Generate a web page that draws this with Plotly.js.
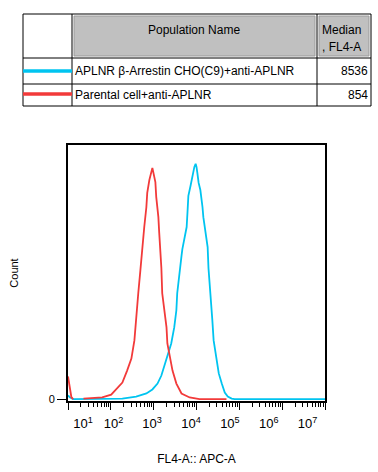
<!DOCTYPE html>
<html>
<head>
<meta charset="utf-8">
<script src="https://cdn.plot.ly/plotly-3.0.1.min.js"></script>
<style>html,body{margin:0;padding:0;background:#fff;}#chart{width:378px;height:472px;}</style>
</head>
<body>
<div id="chart"></div>
<script>
// ---- data (FL4-A intensity, count as % of max) ----
var redX = [10, 10.7, 12, 13.2, null, 23, 63, 102, 141, 186, 240, 302, 355, 389, 437, 490, 537, 603, 676, 708, 794, 891, 933, 977, 1096, 1148, 1288, 1349, 1445, 1514, 1585, 1778, 1995, 2089, 2344, 2754, 3388, 4467, 6918, 11750, 50100];
var redY = [9.8, 7, 1, 0.2, null, 0.4, 0.9, 2.1, 4.7, 7.2, 12.3, 17.4, 25.1, 34.9, 45.1, 54.9, 64.7, 73.2, 81.7, 87.7, 93.2, 97.4, 98.3, 96.6, 92.3, 86.0, 77.4, 70.6, 62, 55.7, 45.1, 37.9, 30.6, 23.8, 19.6, 12.3, 6.8, 2.6, 0.9, 0.2, 0.2];
var blueX = [10, 11, 13.2, 186, 389, 676, 933, 1230, 1514, 1778, 2089, 2570, 3020, 3388, 3548, 3981, 4467, 4677, 5248, 5888, 6166, 6457, 7244, 7586, 8128, 8511, 8913, 9550, 10000, 10470, 11220, 12300, 13180, 13800, 14450, 15490, 16980, 18200, 19050, 21380, 23440, 25120, 29510, 33110, 38900, 45710, 53700, 66070, 77620, 10000000];
var blueY = [1.8, 1, 0.2, 0.4, 1.3, 2.6, 4.3, 6.8, 10.2, 14.5, 18.7, 23.8, 30.6, 37.9, 45.1, 51.9, 61, 63.8, 68.1, 73.2, 79.6, 86.4, 90.6, 92.8, 94.9, 97.0, 98.7, 100, 98.7, 96.2, 91.9, 88.9, 85.5, 81.7, 77.4, 73.2, 68.9, 64.7, 55.7, 45.1, 33.6, 25.1, 17.9, 11.1, 6.8, 3.0, 1.3, 0.4, 0.2, 0.2];

var populations = ["APLNR \u03b2-Arrestin CHO(C9)+anti-APLNR", "Parental cell+anti-APLNR"];
var medians = ["8536", "854"];
var seriesColors = ["#00c4f0", "#f23a3a"];

var majorTicks = [1e1, 1e2, 1e3, 1e4, 1e5, 1e6, 1e7];
var tickLabelPos = [22.4, 115, 912, 7413, 60256, 489779, 3890451];
var tickLabelText = ["10<sup>1</sup>", "10<sup>2</sup>", "10<sup>3</sup>", "10<sup>4</sup>", "10<sup>5</sup>", "10<sup>6</sup>", "10<sup>7</sup>"];
var minorTicks = [];
for (var d = 1; d < 7; d++) { for (var k = 2; k <= 9; k++) { minorTicks.push(k * Math.pow(10, d)); } }

// ---- layout helpers (pixel -> paper) ----
var W = 378, H = 472, L = 68, R = 325, T = 145, B = 401;
function px(x) { return (x - L) / (R - L); }
function py(y) { return (B - y) / (B - T); }

var font = "Liberation Sans, Arial, sans-serif";

var traces = [
  {x: blueX, y: blueY, type: "scatter", mode: "lines", line: {color: seriesColors[0], width: 1.8}, name: populations[0], showlegend: false, hoverinfo: "skip"},
  {x: redX, y: redY, type: "scatter", mode: "lines", line: {color: seriesColors[1], width: 1.8}, name: populations[1], showlegend: false, hoverinfo: "skip", connectgaps: false},
  {x: [10], y: [0], xaxis: "x2", type: "scatter", mode: "markers", marker: {opacity: 0}, showlegend: false, hoverinfo: "skip"}
];

var shapes = [];
function line(x0, y0, x1, y1, color, width) {
  shapes.push({type: "line", xref: "paper", yref: "paper", x0: px(x0), y0: py(y0), x1: px(x1), y1: py(y1), line: {color: color, width: width}});
}
function rect(x0, y0, x1, y1, fill, lc, lw) {
  shapes.push({type: "rect", xref: "paper", yref: "paper", x0: px(x0), y0: py(y0), x1: px(x1), y1: py(y1), fillcolor: fill, line: {color: lc, width: lw}, layer: "above"});
}
// gray header cells
rect(74, 16, 315, 56, "#c0c0c0", "#9a9a9a", 1);
rect(319, 16, 369, 56, "#c0c0c0", "#9a9a9a", 1);
// table grid
rect(23, 14, 371, 106, "rgba(0,0,0,0)", "#000", 1);
line(23, 58, 371, 58, "#000", 1);
line(23, 84, 371, 84, "#000", 1);
line(72, 14, 72, 106, "#000", 1);
line(317, 14, 317, 106, "#000", 1);
// legend swatches
line(23, 71, 72, 71, seriesColors[0], 3.5);
line(23, 94, 72, 94, seriesColors[1], 3.5);

function ann(text, x, y, xanchor, size) {
  return {text: text, xref: "paper", yref: "paper", x: px(x), y: py(y), xanchor: xanchor, yanchor: "middle", showarrow: false, font: {family: font, size: size || 12, color: "#000"}};
}
var annotations = [
  ann("Population Name", 194, 30, "center"),
  ann("Median", 319.5, 30, "left"),
  ann(", FL4-A", 319.5, 47, "left"),
  ann(populations[0], 73, 71, "left"),
  ann(medians[0], 370, 71, "right"),
  ann(populations[1], 73, 95, "left"),
  ann(medians[1], 370, 95, "right")
];

var layout = {
  width: W, height: H,
  margin: {l: L, r: W - R, t: T, b: H - B, pad: 0},
  paper_bgcolor: "#fff", plot_bgcolor: "#fff",
  font: {family: font, size: 12, color: "#000"},
  xaxis: {
    type: "log", range: [1, 7], showgrid: false, zeroline: false,
    showline: true, mirror: true, linecolor: "#000", linewidth: 2,
    tickmode: "array", tickvals: majorTicks, ticks: "outside", ticklen: 7, tickwidth: 1, tickcolor: "#000",
    showticklabels: false,
    minor: {tickmode: "array", tickvals: minorTicks, ticks: "outside", ticklen: 4, tickwidth: 1, tickcolor: "#000", showgrid: false},
    title: {text: "FL4-A:: APC-A", font: {family: font, size: 12}, standoff: 46}
  },
  xaxis2: {
    type: "log", range: [1, 7], overlaying: "x", anchor: "y", side: "bottom",
    showgrid: false, zeroline: false, showline: false, ticks: "",
    tickmode: "array", tickvals: tickLabelPos, ticktext: tickLabelText,
    tickfont: {family: font, size: 13}, ticklabelstandoff: 13
  },
  yaxis: {
    range: [-0.6, 108], showgrid: false, zeroline: false,
    showline: true, mirror: true, linecolor: "#000", linewidth: 2,
    tickmode: "array", tickvals: [0], ticktext: ["0"], ticks: "outside", ticklen: 9, tickcolor: "#000",
    tickfont: {family: font, size: 11},
    title: {text: "Count", font: {family: font, size: 11}, standoff: 28}
  },
  shapes: shapes,
  annotations: annotations
};

Plotly.newPlot("chart", traces, layout, {staticPlot: true, displayModeBar: false});
</script>
</body>
</html>
